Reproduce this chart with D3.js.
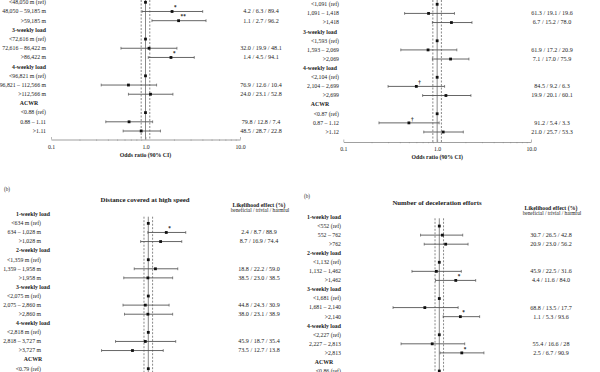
<!DOCTYPE html>
<html>
<head>
<meta charset="utf-8">
<script src="https://cdn.jsdelivr.net/npm/d3@7"></script>
<style>
  body { margin: 0; background: #fff; }
  svg { display: block; }
  text { font-family: "Liberation Serif", "DejaVu Serif", serif; fill: #222; }
</style>
</head>
<body>
<div id="root"></div>
<script>
// Size of the picture
const width = 600;
const height = 372;

// Panel (a), total distance, top left (rows above are cut off)
const distLabels = ["<48,050 m (ref)", "48,050 – 59,185 m", ">59,185 m", "3-weekly load", "<72,616 m (ref)", "72,616 – 86,422 m", ">86,422 m", "4-weekly load", "<96,821 m (ref)", "96,821 – 112,566 m", ">112,566 m", "ACWR", "<0.88 (ref)", "0.88 – 1.11", ">1.11"];
const distOR = [1, 1.91, 2.24, null, 1, 1.09, 1.86, null, 1, 0.66, 1.13, null, 1, 0.67, 0.90];
const distLow = [null, 0.92, 1.17, null, null, 0.55, 1.07, null, null, 0.34, 0.66, null, null, 0.38, 0.58];
const distHigh = [null, 4.03, 4.37, null, null, 2.15, 3.28, null, null, 1.31, 1.95, null, null, 1.19, 1.44];
const distSig = ["", "*", "**", "", "", "", "*", "", "", "", "", "", "", "", ""];
const distEffect = ["", "4.2 / 6.3 / 89.4", "1.1 / 2.7 / 96.2", "", "", "32.0 / 19.9 / 48.1", "1.4 / 4.5 / 94.1", "", "", "76.9 / 12.6 / 10.4", "24.0 / 23.1 / 52.8", "", "", "79.8 / 12.8 / 7.4", "48.5 / 28.7 / 22.8"];

// Panel (a), accelerations, top right
const accLabels = ["<1,091 (ref)", "1,091 – 1,418", ">1,418", "3-weekly load", "<1,593 (ref)", "1,593 – 2,069", ">2,069", "4-weekly load", "<2,104 (ref)", "2,104 – 2,699", ">2,699", "ACWR", "<0.87 (ref)", "0.87 – 1.12", ">1.12"];
const accOR = [1, 0.81, 1.42, null, 1, 0.80, 1.39, null, 1, 0.60, 1.24, null, 1, 0.50, 1.16];
const accLow = [null, 0.45, 0.89, null, null, 0.41, 0.89, null, null, 0.30, 0.70, null, null, 0.24, 0.72];
const accHigh = [null, 1.53, 2.35, null, null, 1.62, 2.18, null, null, 1.20, 2.29, null, null, 1.05, 1.90];
const accSig = ["", "", "", "", "", "", "", "", "", "†", "", "", "", "†", ""];
const accEffect = ["", "61.3 / 19.1 / 19.6", "6.7 / 15.2 / 78.0", "", "", "61.9 / 17.2 / 20.9", "7.1 / 17.0 / 75.9", "", "", "84.5 / 9.2 / 6.3", "19.9 / 20.1 / 60.1", "", "", "91.2 / 5.4 / 3.3", "21.0 / 25.7 / 53.3"];

// Panel (b), distance covered at high speed, bottom left
const hsLabels = ["1-weekly load", "<634 m (ref)", "634 – 1,028 m", ">1,028 m", "2-weekly load", "<1,359 m (ref)", "1,359 – 1,958 m", ">1,958 m", "3-weekly load", "<2,075 m (ref)", "2,075 – 2,860 m", ">2,860 m", "4-weekly load", "<2,818 m (ref)", "2,818 – 3,727 m", ">3,727 m", "ACWR", "<0.79 (ref)"];
const hsOR = [null, 1, 1.55, 1.35, null, 1, 1.19, 0.99, null, 1, 0.93, 0.99, null, 1, 0.93, 0.68, null, 1];
const hsLow = [null, null, 0.99, 0.83, null, null, 0.71, 0.55, null, null, 0.54, 0.56, null, null, 0.45, 0.32, null, null];
const hsHigh = [null, null, 2.49, 2.26, null, null, 2.05, 1.81, null, null, 1.66, 1.81, null, null, 1.95, 1.44, null, null];
const hsSig = ["", "", "*", "", "", "", "", "", "", "", "", "", "", "", "", "", "", ""];
const hsEffect = ["", "", "2.4 / 8.7 / 88.9", "8.7 / 16.9 / 74.4", "", "", "18.8 / 22.2 / 59.0", "38.5 / 23.0 / 38.5", "", "", "44.8 / 24.3 / 30.9", "38.0 / 23.1 / 38.9", "", "", "45.9 / 18.7 / 35.4", "73.5 / 12.7 / 13.8", "", ""];

// Panel (b), deceleration efforts, bottom right
const decLabels = ["1-weekly load", "<552 (ref)", "552 – 762", ">762", "2-weekly load", "<1,132 (ref)", "1,132 – 1,462", ">1,462", "3-weekly load", "<1,681 (ref)", "1,681 – 2,140", ">2,140", "4-weekly load", "<2,227 (ref)", "2,227 – 2,813", ">2,813", "ACWR", "<0.86 (ref)"];
const decOR = [null, 1, 1.08, 1.17, null, 1, 0.93, 1.50, null, 1, 0.70, 1.68, null, 1, 0.84, 1.74, null, 1];
const decLow = [null, null, 0.63, 0.69, null, null, 0.51, 0.91, null, null, 0.32, 1.10, null, null, 0.39, 1.02, null, null];
const decHigh = [null, null, 1.78, 2.03, null, null, 1.72, 2.45, null, null, 1.59, 2.70, null, null, 1.87, 3.00, null, null];
const decSig = ["", "", "", "", "", "", "", "*", "", "", "", "*", "", "", "", "*", "", ""];
const decEffect = ["", "", "30.7 / 26.5 / 42.8", "20.9 / 23.0 / 56.2", "", "", "45.9 / 22.5 / 31.6", "4.4 / 11.6 / 84.0", "", "", "68.8 / 13.5 / 17.7", "1.1 / 5.3 / 93.6", "", "", "55.4 / 16.6 / 28", "2.5 / 6.7 / 90.9", "", ""];

// Axis ticks and reference band
const axisTicks = [0.1, 0.2, 0.3, 0.4, 0.5, 0.6, 0.7, 0.8, 0.9, 1, 2, 3, 4, 5, 6, 7, 8, 9, 10];
const axisLabels = { 0.1: "0.1", 1: "1.0", 10: "10.0" };
const refLines = [0.9, 1, 1.11];

const labelSize = 5.8;
const effectSize = 6.1;

const svg = d3
  .select("#root")
  .append("svg")
  .attr("width", width)
  .attr("height", height);

function rowsOf(labels, or, low, high, sig, effect) {
  return labels.map((label, i) => ({
    i: i,
    label: label,
    header: or[i] === null,
    or: or[i],
    low: low[i],
    high: high[i],
    sig: sig[i],
    effect: effect[i]
  }));
}

function drawPanel(p) {
  const g = svg.append("g");
  const rows = p.rows;

  const xScale = d3.scaleLog().domain([0.1, 10]).range(p.xRange);
  const yScale = d3
    .scaleLinear()
    .domain([0, rows.length - 1])
    .range(p.yRange);

  // reference line at 1 and the trivial band
  g.selectAll(".ref")
    .data(refLines)
    .enter()
    .append("line")
    .attr("x1", d => xScale(d))
    .attr("x2", d => xScale(d))
    .attr("y1", p.lineTop)
    .attr("y2", p.lineBottom)
    .attr("stroke", "#555")
    .attr("stroke-width", 0.7)
    .attr("stroke-dasharray", d => (d === 1 ? null : "2,1.5"));

  // row labels
  g.selectAll(".label")
    .data(rows)
    .enter()
    .append("text")
    .attr("x", d => (d.header ? p.headerX : p.labelX))
    .attr("y", d => yScale(d.i))
    .attr("dy", "0.32em")
    .attr("text-anchor", d => (d.header ? "middle" : "end"))
    .attr("font-size", labelSize)
    .attr("font-weight", d => (d.header ? "bold" : "normal"))
    .text(d => d.label);

  const ci = rows.filter(d => d.low !== null);

  // confidence intervals
  g.selectAll(".ci")
    .data(ci)
    .enter()
    .append("line")
    .attr("x1", d => xScale(d.low))
    .attr("x2", d => xScale(d.high))
    .attr("y1", d => yScale(d.i))
    .attr("y2", d => yScale(d.i))
    .attr("stroke", "#555")
    .attr("stroke-width", 0.9);

  ["low", "high"].forEach(k => {
    g.selectAll(".cap-" + k)
      .data(ci)
      .enter()
      .append("line")
      .attr("x1", d => xScale(d[k]))
      .attr("x2", d => xScale(d[k]))
      .attr("y1", d => yScale(d.i) - 1.4)
      .attr("y2", d => yScale(d.i) + 1.4)
      .attr("stroke", "#555")
      .attr("stroke-width", 0.7);
  });

  // point estimates
  const pts = rows.filter(d => d.or !== null);
  g.selectAll(".pt")
    .data(pts)
    .enter()
    .append("rect")
    .attr("x", d => xScale(d.or) - 1.4)
    .attr("y", d => yScale(d.i) - 1.4)
    .attr("width", 2.8)
    .attr("height", 2.8)
    .attr("fill", "#111");

  // significance marks
  g.selectAll(".sig")
    .data(pts.filter(d => d.sig))
    .enter()
    .append("text")
    .attr("x", d => xScale(d.or) + 2)
    .attr("y", d => yScale(d.i) - 2.2)
    .attr("font-size", 5.2)
    .attr("font-weight", "bold")
    .text(d => d.sig);

  // likelihood of effect
  g.selectAll(".effect")
    .data(rows.filter(d => d.effect))
    .enter()
    .append("text")
    .attr("x", p.effectX)
    .attr("y", d => yScale(d.i))
    .attr("dy", "0.32em")
    .attr("text-anchor", "middle")
    .attr("font-size", effectSize)
    .text(d => d.effect);

  if (p.axisY) {
    const xAxis = d3
      .axisBottom(xScale)
      .tickValues(axisTicks)
      .tickSize(0)
      .tickFormat(d => axisLabels[d] || "");

    const ax = g
      .append("g")
      .attr("transform", "translate(0," + p.axisY + ")")
      .call(xAxis);
    ax.select(".domain").attr("stroke", "#777").attr("stroke-width", 0.7);
    ax.selectAll(".tick line")
      .attr("y2", d => (axisLabels[d] ? -2.5 : 1.2))
      .attr("stroke", "#888")
      .attr("stroke-width", 0.6);
    ax.selectAll(".tick text")
      .attr("y", 5)
      .attr("font-size", labelSize)
      .attr("font-family", "Liberation Serif, serif")
      .attr("fill", "#222");

    g.append("text")
      .attr("x", xScale(1))
      .attr("y", p.axisY + 17)
      .attr("text-anchor", "middle")
      .attr("font-size", labelSize)
      .attr("font-weight", "bold")
      .text("Odds ratio (90% CI)");
  }

  if (p.title) {
    g.append("text")
      .attr("x", p.tag[0])
      .attr("y", p.tag[1])
      .attr("font-size", 5.2)
      .text("(b)");
    g.append("text")
      .attr("x", p.titleX)
      .attr("y", p.titleY)
      .attr("text-anchor", "middle")
      .attr("font-size", 6.8)
      .attr("font-weight", "bold")
      .text(p.title);
    g.append("text")
      .attr("x", p.effectX)
      .attr("y", p.titleY + 5)
      .attr("text-anchor", "middle")
      .attr("font-size", 5.8)
      .attr("font-weight", "bold")
      .text("Likelihood effect (%)");
    g.append("text")
      .attr("x", p.effectX + 1)
      .attr("y", p.titleY + 9.8)
      .attr("text-anchor", "middle")
      .attr("font-size", 5.3)
      .text("beneficial  /  trivial  /  harmful");
  }
}

drawPanel({
  rows: rowsOf(distLabels, distOR, distLow, distHigh, distSig, distEffect),
  xRange: [51, 240],
  yRange: [2.3, 131],
  lineTop: 0,
  lineBottom: 139.5,
  labelX: 46,
  headerX: 29,
  effectX: 261,
  axisY: 139.5
});

drawPanel({
  rows: rowsOf(accLabels, accOR, accLow, accHigh, accSig, accEffect),
  xRange: [343.3, 531],
  yRange: [4.3, 132],
  lineTop: 0,
  lineBottom: 142,
  labelX: 339,
  headerX: 320,
  effectX: 552,
  axisY: 142
});

drawPanel({
  rows: rowsOf(hsLabels, hsOR, hsLow, hsHigh, hsSig, hsEffect),
  xRange: [53.8, 242.8],
  yRange: [214.3, 368.7],
  lineTop: 216.7,
  lineBottom: 372,
  labelX: 41,
  headerX: 33,
  effectX: 259,
  title: "Distance covered at high speed",
  titleX: 145,
  titleY: 202,
  tag: [4, 191]
});

drawPanel({
  rows: rowsOf(decLabels, decOR, decLow, decHigh, decSig, decEffect),
  xRange: [345.8, 532.8],
  yRange: [217, 371],
  lineTop: 218.3,
  lineBottom: 372,
  labelX: 341,
  headerX: 324,
  effectX: 551,
  title: "Number of deceleration efforts",
  titleX: 437,
  titleY: 205,
  tag: [304, 197.5]
});
</script>
</body>
</html>
